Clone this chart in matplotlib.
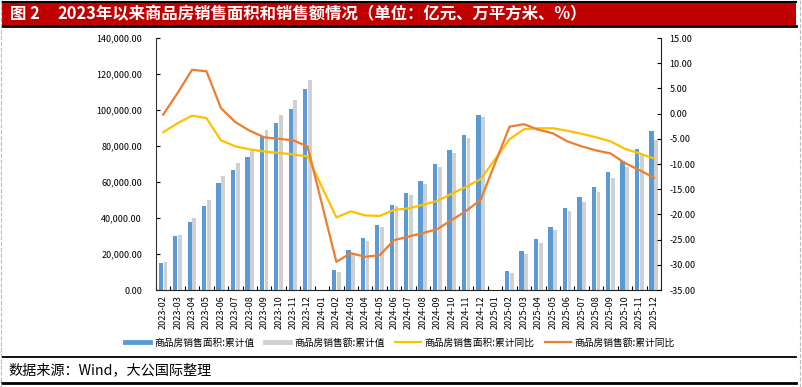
import numpy as np
import matplotlib.pyplot as plt
from matplotlib.lines import Line2D
from matplotlib.patches import Rectangle

plt.rcParams['font.family'] = ['Noto Sans CJK SC', 'DejaVu Sans']
plt.rcParams['axes.unicode_minus'] = False

months = ['2023-02', '2023-03', '2023-04', '2023-05', '2023-06', '2023-07', '2023-08',
          '2023-09', '2023-10', '2023-11', '2023-12',
          '2024-01', '2024-02', '2024-03', '2024-04', '2024-05', '2024-06', '2024-07',
          '2024-08', '2024-09', '2024-10', '2024-11', '2024-12',
          '2025-01', '2025-02', '2025-03', '2025-04', '2025-05', '2025-06', '2025-07',
          '2025-08', '2025-09', '2025-10', '2025-11', '2025-12']
nan = np.nan
area_cum = [15133, 29946, 37636, 46440, 59515, 66563, 73949, 84806, 92579, 100509, 111735,
            nan, 11200, 22300, 28900, 36300, 47500, 53700, 60400, 70000, 77600, 85900, 97200,
            nan, 10400, 21500, 28200, 35000, 45600, 51500, 57000, 65600, 71900, 78500, 88200]
sales_cum = [15449, 30545, 39750, 49997, 63092, 70450, 78158, 89070, 97161, 105318, 116622,
             nan, 10000, 20400, 27400, 35200, 46700, 52600, 58900, 68500, 76100, 84600, 96100,
             nan, 9400, 20000, 26300, 33500, 43700, 49100, 54600, 62400, 68500, 75000, 83500]
area_yoy = [-3.7, -1.9, -0.4, -0.9, -5.3, -6.5, -7.1, -7.5, -7.8, -8.1, -8.5,
            nan, -20.6, -19.4, -20.2, -20.3, -19.1, -18.8, -18.1, -17.3, -15.9, -14.5, -13.0,
            nan, -5.1, -3.1, -2.9, -2.9, -3.4, -4.0, -4.7, -5.5, -7.0, -7.9, -8.9]
sales_yoy = [-0.2, 4.1, 8.7, 8.4, 1.1, -1.7, -3.4, -4.7, -5.0, -5.3, -6.5,
             nan, -29.4, -27.7, -28.4, -28.1, -25.1, -24.4, -23.7, -22.9, -21.1, -19.3, -17.1,
             nan, -2.6, -2.1, -3.2, -3.9, -5.5, -6.5, -7.3, -7.9, -9.8, -11.2, -12.7]

blue = '#5B9BD5'
gray = '#D0D0D0'
yellow = '#FFC000'
orange = '#ED7D31'

x = np.arange(len(months))
fig = plt.figure(figsize=(8.02, 3.87), dpi=100)
ax = fig.add_axes([0.1945, 0.2506, 0.6297, 0.6512])

ax.bar(x - 0.16, area_cum, width=0.3, color=blue, label='商品房销售面积:累计值')
ax.bar(x + 0.16, sales_cum, width=0.26, color=gray, label='商品房销售额:累计值')
ax.set_ylim(0, 140000)
ax.set_xlim(-0.5, len(months) - 0.5)
ax.set_yticks(np.arange(0, 140001, 20000))
ax.set_yticklabels([f'{v:,.2f}' for v in np.arange(0, 140001, 20000)], fontsize=6.5)
ax.set_xticks(x)
ax.set_xticklabels(months, rotation=90, fontsize=6.5)
ax.set_xticks(np.arange(-0.5, len(months), 1), minor=True)
ax.tick_params(axis='x', which='major', length=0, pad=4)
ax.tick_params(axis='x', which='minor', length=3, direction='in', width=0.8)
ax.tick_params(axis='y', length=3, direction='in', pad=10)
ax.spines['top'].set_visible(False)
ax.spines['right'].set_visible(False)
ax.spines['left'].set_color('#333333')
ax.spines['bottom'].set_color('#222222')

ax2 = ax.twinx()
yo_a = np.array(area_yoy)
yo_s = np.array(sales_yoy)
ok = ~np.isnan(yo_a)
ax2.plot(x[ok], yo_a[ok], color=yellow, lw=1.6, label='商品房销售面积:累计同比')
ax2.plot(x[ok], yo_s[ok], color=orange, lw=1.6, label='商品房销售额:累计同比')
ax2.set_ylim(-35, 15)
ax2.set_yticks(np.arange(-35, 16, 5))
ax2.set_yticklabels([f'{v:.2f}' for v in np.arange(-35, 16, 5)], fontsize=6.5)
ax2.tick_params(axis='y', length=3, direction='in', pad=6)
for s in ['top', 'left', 'bottom']:
    ax2.spines[s].set_visible(False)
ax2.spines['right'].set_color('#222222')

handles = [Line2D([], [], color=blue, lw=3.5), Line2D([], [], color=gray, lw=3.5),
           Line2D([], [], color=yellow, lw=1.6), Line2D([], [], color=orange, lw=1.6)]
labels = ['商品房销售面积:累计值', '商品房销售额:累计值', '商品房销售面积:累计同比', '商品房销售额:累计同比']
fig.legend(handles, labels, loc='center', bbox_to_anchor=(0.4985, 0.114), ncol=4,
           frameon=False, fontsize=7, handlelength=2.6, columnspacing=1.1, handletextpad=0.4)

# title bar
fig.add_artist(Rectangle((0.003, 1 - 26 / 387), 0.989, 23 / 387, transform=fig.transFigure,
                         facecolor='#C00000', edgecolor='none'))
fig.add_artist(Line2D([0.003, 0.992], [1 - 2 / 387, 1 - 2 / 387], color='black', lw=1.5))
fig.add_artist(Line2D([0.003, 0.992], [1 - 26 / 387, 1 - 26 / 387], color='black', lw=2))
fig.text(0.012, 1 - 14.5 / 387, '图 2', color='white', fontsize=11.8, fontweight='bold', va='center')
fig.text(0.071, 1 - 14.5 / 387, '2023年以来商品房销售面积和销售额情况（单位：亿元、万平方米、%）',
         color='white', fontsize=11.8, fontweight='bold', va='center')

# source
fig.add_artist(Line2D([0.003, 0.992], [1 - 357 / 387, 1 - 357 / 387], color='black', lw=1.3))
fig.add_artist(Line2D([0.003, 0.992], [1 - 383 / 387, 1 - 383 / 387], color='black', lw=2))
fig.text(0.01, 1 - 370 / 387, '数据来源：Wind，大公国际整理', fontsize=10.2, va='center')

# dashed border
fig.add_artist(Line2D([0.0015, 0.0015], [0, 1], color='#BBBBBB', lw=0.8, ls='--'))
fig.add_artist(Line2D([0.997, 0.997], [0, 1], color='#BBBBBB', lw=0.8, ls='--'))

plt.savefig('out.png', dpi=100)
